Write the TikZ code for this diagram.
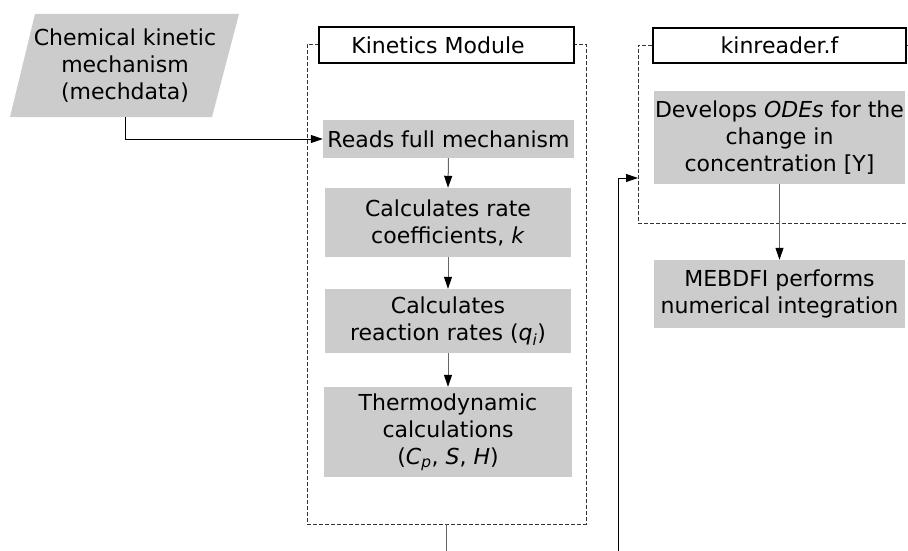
\documentclass[tikz,border=0pt]{standalone}
\usepackage{fontspec}
\setmainfont{DejaVu Sans}
\usetikzlibrary{arrows.meta}
\definecolor{boxgray}{HTML}{CCCCCC}
\begin{document}
\begin{tikzpicture}[x=1pt,y=-1pt,
  every node/.style={font=\fontsize{22}{27}\selectfont},
  procbox/.style={fill=boxgray, inner sep=0pt, align=center},
  labelbox/.style={draw=black, line width=1.8pt, fill=white, inner sep=0pt},
  frame/.style={draw=black!80, dash pattern=on 4pt off 2pt, line width=0.8pt, inner sep=0pt},
  conn/.style={draw=black!60, line width=1pt, -{Triangle[length=12pt,width=8pt,color=black]}},
]
\useasboundingbox (0,0) rectangle (908,551);
\clip (0,0) rectangle (908,551);

% frames
\node[frame, minimum width=279, minimum height=480] (kinframe) at (446.5,284) {};
\node[frame, minimum width=302, minimum height=178] (krframe) at (789,134) {};

% frame labels
\node[labelbox, minimum width=255, minimum height=36] (kinlabel) at (446.5,45) {Kinetics Module\hspace*{17pt}};
\node[labelbox, minimum width=253, minimum height=35] (krlabel) at (779.5,45.5) {kinreader.f};

% input parallelogram
\fill[boxgray] (35,14) -- (239,14) -- (212,117) -- (10,117) -- cycle;
\node[minimum height=103, inner sep=0pt, align=center] (mech) at (125,65.5) {Chemical kinetic\\mechanism\\(mechdata)};

% kinetics module steps
\node[procbox, minimum width=251, minimum height=38] (reads) at (448.5,139) {Reads full mechanism};
\node[procbox, minimum width=246, minimum height=69] (rate) at (448,222.5) {Calculates rate\\coefficients, \textit{k}};
\node[procbox, minimum width=246, minimum height=64] (qi) at (448,321) {Calculates\\reaction rates (\textit{q\textsubscript{i}})};
\node[procbox, minimum width=248, minimum height=90] (thermo) at (448,432) {Thermodynamic\\calculations\\(\textit{C\textsubscript{p}}, \textit{S}, \textit{H})};

% kinreader steps
\node[procbox, minimum width=251, minimum height=93] (odes) at (779.5,137.5) {Develops \textit{ODEs} for the\\change in\\concentration [Y]};
\node[procbox, minimum width=251, minimum height=68] (mebdfi) at (779.5,294) {MEBDFI performs\\numerical integration};

% connectors
\draw[conn, draw=black] (mech.south) |- (reads.west);
\draw[conn] (reads.south) -- (rate.north);
\draw[conn] (rate.south) -- (qi.north);
\draw[conn] (qi.south) -- (thermo.north);
\coordinate (kinout) at (448,560);
\draw[line width=1pt, draw=black!60] (kinframe.south) -- (kinframe.south |- kinout);
\coordinate (fbin) at (618,560);
\coordinate (krin) at (638,178);
\draw[conn, draw=black] (fbin) |- (krin);
\draw[conn] (odes.south) -- (mebdfi.north);
\end{tikzpicture}
\end{document}
